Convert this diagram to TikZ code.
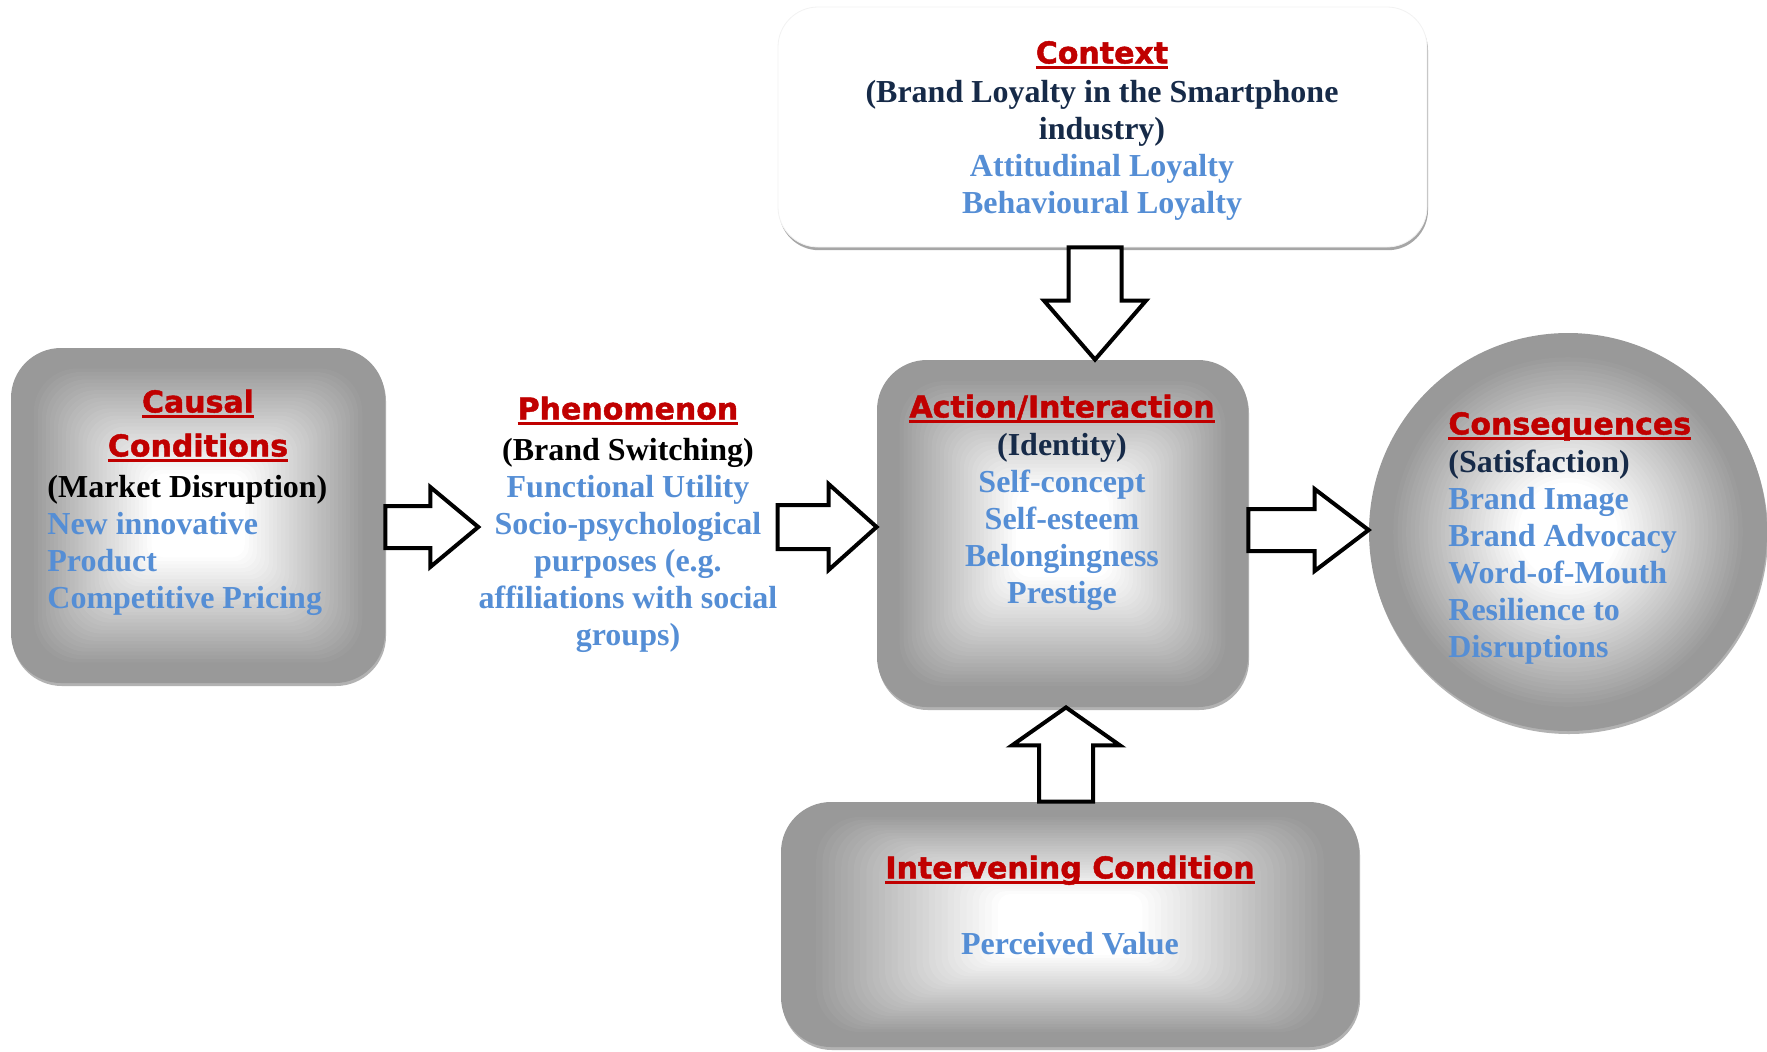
\documentclass[tikz,border=0pt]{standalone}
\usepackage{fontspec}
\setmainfont{Liberation Serif}
\newfontfamily\headfont{DejaVu Sans}[FakeBold=1.5]
\usetikzlibrary{calc,shadows}
\definecolor{headred}{RGB}{192,0,0}
\definecolor{itemblue}{RGB}{85,142,213}
\definecolor{navytext}{RGB}{22,42,72}

\newcommand\headrule[1]{\setbox0=\hbox{#1}\rlap{\rule[-2.6pt]{\wd0}{1.3pt}}\box0}
\newcommand\headtxt[1]{{\headfont\bfseries\fontsize{15}{18.5}\selectfont\color{headred}\headrule{#1}}}
\newcommand\itm[1]{\textcolor{itemblue}{#1}}
\newcommand\nvy[1]{\textcolor{navytext}{#1}}
\newcommand\topstrut{\rule{0pt}{12pt}}

% grey path gradient, rim to centre
\newcommand\greyfill[1]{%
  \foreach \i in {0,...,30} {
    \pgfmathsetmacro\fr{0.10+0.65*\i/30}
    \pgfmathsetmacro\shd{40*(1-\i/30)}
    \pgfmathsetmacro\rad{#1*(1-\fr)}
    \fill[black!\shd, rounded corners=\rad pt]
      ($(path picture bounding box.south west)!\fr!(path picture bounding box.center)$)
      rectangle ($(path picture bounding box.north east)!\fr!(path picture bounding box.center)$);
  }}
\newcommand\greydisc[1]{%
  \foreach \i in {0,...,30} {
    \pgfmathsetmacro\fr{0.10+0.65*\i/30}
    \pgfmathsetmacro\shd{40*(1-\i/30)}
    \pgfmathsetmacro\rad{#1*(1-\fr)}
    \fill[black!\shd] (path picture bounding box.center) circle[radius=\rad pt];
  }}

\begin{document}
\begin{tikzpicture}[x=0.5pt, y=-0.5pt,
  greybox/.style={fill=black!40, rounded corners=25pt, inner sep=0pt,
    drop shadow={shadow xshift=0.5pt, shadow yshift=-1.5pt, fill=black!30, opacity=1},
    path picture={\greyfill{25}}},
  txt/.style={inner sep=0pt, font=\bfseries\fontsize{16}{18.5}\selectfont},
  fatarrow/.style n args={3}{draw=black, fill=white, line width=2pt,
    to path={
      ($(\tikztotarget)!#3!(\tikztostart)$) coordinate (fab)
      ($(\tikztostart)!#1!90:(\tikztotarget)$) -- ($(fab)!#1!90:(\tikztotarget)$)
      -- ($(fab)!#2!90:(\tikztotarget)$) -- (\tikztotarget)
      -- ($(fab)!#2!-90:(\tikztotarget)$) -- ($(fab)!#1!-90:(\tikztotarget)$)
      -- ($(\tikztostart)!#1!-90:(\tikztotarget)$) -- cycle}}]
\useasboundingbox (0,0) rectangle (1767,1051);
\clip (0,0) rectangle (1767,1051);

% boxes
\node[fill=white, draw=black!5, line width=0.4pt, rounded corners=20pt, inner sep=0pt,
  minimum width=324.5pt, minimum height=120pt,
  drop shadow={shadow xshift=0.5pt, shadow yshift=-1.6pt, fill=black!35, opacity=1}]
  (contextbox) at (1102.5,127) {};
\node[greybox, minimum width=187pt, minimum height=167.5pt] (causalbox) at (198,515.5) {};
\node[greybox, minimum width=185.5pt, minimum height=173.5pt] (actionbox) at (1062.5,533.5) {};
\node[greybox, minimum width=289pt, minimum height=122.5pt] (intervbox) at (1070,924.5) {};
\node[circle, fill=black!40, minimum size=199pt, inner sep=0pt,
  drop shadow={shadow xshift=0.5pt, shadow yshift=-1.5pt, fill=black!30, opacity=1},
  path picture={\greydisc{99.5}}] (conseqbox) at (1568,532) {};

% texts
\node[txt, anchor=north, align=center] (context) at (1102,39) {\topstrut\headtxt{Context}\\[1pt]
  \nvy{(Brand Loyalty in the Smartphone}\\ \nvy{industry)}\\
  \itm{Attitudinal Loyalty}\\ \itm{Behavioural Loyalty}};
\node[txt, anchor=north, align=center] (causalhead) at (198,388) {\topstrut\headtxt{Causal}\\[3.5pt]\headtxt{Conditions}};
\node[txt, anchor=north west, align=left] (causal) at (47,473) {\topstrut(Market Disruption)\\
  \itm{New innovative}\\ \itm{Product}\\ \itm{Competitive Pricing}};
\node[txt, anchor=north, align=center] (phen) at (628,395) {\topstrut\headtxt{Phenomenon}\\[2pt]
  (Brand Switching)\\ \itm{Functional Utility}\\ \itm{Socio-psychological}\\
  \itm{purposes (e.g.}\\ \itm{affiliations with social}\\ \itm{groups)}};
\node[txt, anchor=north, align=center] (action) at (1062,393) {\topstrut\headtxt{Action/Interaction}\\[0.5pt]
  \nvy{(Identity)}\\ \itm{Self-concept}\\ \itm{Self-esteem}\\ \itm{Belongingness}\\ \itm{Prestige}};
\node[txt, anchor=north west, align=left] (conseq) at (1448,410) {\topstrut\headtxt{Consequences}\\[0.5pt]
  \nvy{(Satisfaction)}\\ \itm{Brand Image}\\ \itm{Brand Advocacy}\\ \itm{Word-of-Mouth}\\
  \itm{Resilience to}\\ \itm{Disruptions}};
\node[txt, anchor=north, align=center] (interv) at (1070,854) {\topstrut\headtxt{Intervening Condition}\\[19.5pt]
  \itm{Perceived Value}};

% block arrows
\coordinate (a1s) at ([yshift=-5.75pt]causalbox.east);
\coordinate (a2s) at (phen.east |- a1s);
\coordinate (a3s) at ([yshift=1.75pt]actionbox.east);
\coordinate (a4s) at ([xshift=-3.75pt]contextbox.south);
\coordinate (a5s) at ([xshift=-2pt]intervbox.north);
\draw[fatarrow={10.5pt}{20pt}{24pt}] (a1s) to (a1s -| phen.west);
\draw[fatarrow={11pt}{21.5pt}{24pt}] (a2s) to (a2s -| actionbox.west);
\draw[fatarrow={10.5pt}{20.5pt}{27pt}] (a3s) to (a3s -| conseqbox.west);
\draw[fatarrow={13.25pt}{25.5pt}{29.5pt}] (a4s) to (a4s |- actionbox.north);
\draw[fatarrow={13.5pt}{27pt}{19pt}] (a5s) to (a5s |- actionbox.south);
\end{tikzpicture}
\end{document}
